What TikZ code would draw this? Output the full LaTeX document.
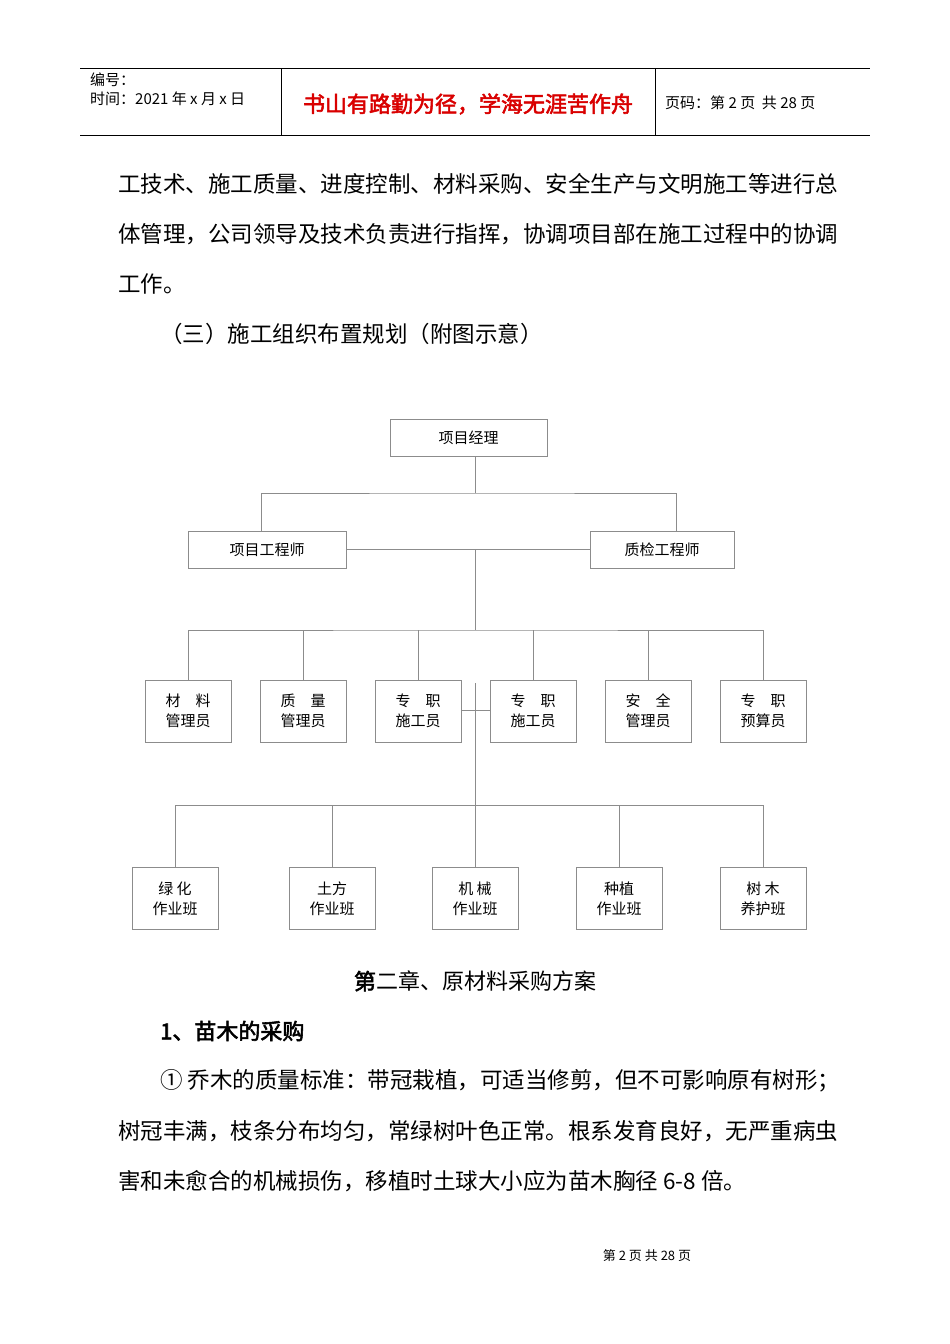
\documentclass[tikz,border=0pt]{standalone}
\usepackage{fontspec}
\setmainfont{Liberation Sans}
\newfontfamily\cjk{Noto Sans CJK SC}
\newfontfamily\cjkb{Noto Sans CJK SC}[FakeBold=2.5]
\begin{document}
\begin{tikzpicture}[x=1pt,y=-1pt,
  bx/.style={draw=black!45,line width=0.8pt,minimum width=86pt,minimum height=62pt,inner sep=0pt,font=\cjk\fontsize{15}{20}\selectfont,align=center},
  tb/.style={draw=black!45,line width=0.8pt,minimum height=37pt,inner sep=0pt,font=\cjk\fontsize{15}{20}\selectfont},
  ln/.style={draw=black!45,line width=0.8pt},
  body/.style={anchor=west,inner sep=0pt,font=\cjk\fontsize{22.5}{24}\selectfont}]
\useasboundingbox[fill=white] (0,0) rectangle (950,1344);
% header
\draw[line width=0.8pt] (80,68) -- (870,68) (80,135) -- (870,135) (281,68) -- (281,135) (655,68) -- (655,135);
\node[anchor=west,inner sep=0pt,font=\cjk\fontsize{15}{18}\selectfont] at (90,80) {编号：};
\node[anchor=west,inner sep=0pt,font=\cjk\fontsize{15}{18}\selectfont] at (90,99) {时间：2021 年 x 月 x 日};
\node[inner sep=0pt,text=red!85!black,font=\cjkb\fontsize{22}{24}\selectfont] at (468,104) {书山有路勤为径，学海无涯苦作舟};
\node[anchor=west,inner sep=0pt,font=\cjk\fontsize{15}{18}\selectfont] at (665,103) {页码：第 2 页\ \ 共 28 页};
% body
\node[body] at (118,184) {工技术、施工质量、进度控制、材料采购、安全生产与文明施工等进行总};
\node[body] at (118,234) {体管理，公司领导及技术负责进行指挥，协调项目部在施工过程中的协调};
\node[body] at (118,284) {工作。};
\node[body] at (160,334) {（三）施工组织布置规划（附图示意）};
% chart
\node[tb,minimum width=157pt] (pm) at (468.5,438) {项目经理};
\node[tb,minimum width=158pt] (pe) at (267,549.5) {项目工程师};
\node[tb,minimum width=144pt] (qe) at (662,549.5) {质检工程师};
\coordinate (j1) at (475,493);
\draw[ln] (475,456) -- (j1);
\draw[ln] (261,531) |- (j1) -| (676,531);
\draw[ln] (pe.east) -- (qe.west);
\coordinate (j2) at (475,630);
\draw[ln] (475,549.5) -- (j2);
\foreach \x/\t [count=\i] in {188/{材\quad 料\\管理员},303/{质\quad 量\\管理员},418/{专\quad 职\\施工员},533/{专\quad 职\\施工员},648/{安\quad 全\\管理员},763/{专\quad 职\\预算员}}
  \node[bx] (m\i) at (\x,711) {\t};
\draw[ln] (m1.north) |- (j2) -| (m6.north);
\foreach \i in {2,3,4,5} \draw[ln] (m\i.north) -- (m\i.north |- j2);
\draw[ln] (m3.east |- 0,710) -- (m4.west |- 0,710);
\coordinate (j3) at (475,805);
\draw[ln] (475,683) -- (j3);
\foreach \x/\t [count=\i] in {175/{绿\ 化\\作业班},332/{土方\\作业班},475/{机\ 械\\作业班},619/{种植\\作业班},763/{树\ 木\\养护班}}
  \node[bx] (w\i) at (\x,898.5) {\t};
\draw[ln] (w1.north) |- (j3) -| (w5.north);
\foreach \i in {2,3,4} \draw[ln] (w\i.north) -- (w\i.north |- j3);
% chapter
\node[inner sep=0pt,font=\cjk\fontsize{22}{24}\selectfont] at (475,981) {{\cjkb 第}二章、原材料采购方案};
\node[body,font=\cjkb\fontsize{22}{24}\selectfont] at (160,1031) {1、苗木的采购};
\node[body] at (160,1081) {① 乔木的质量标准：带冠栽植，可适当修剪，但不可影响原有树形；};
\node[body] at (118,1131) {树冠丰满，枝条分布均匀，常绿树叶色正常。根系发育良好，无严重病虫};
\node[body] at (118,1181) {害和未愈合的机械损伤，移植时土球大小应为苗木胸径 6-8 倍。};
\node[inner sep=0pt,font=\cjk\fontsize{13}{16}\selectfont] at (647,1256) {第 2 页 共 28 页};
\end{tikzpicture}
\end{document}
